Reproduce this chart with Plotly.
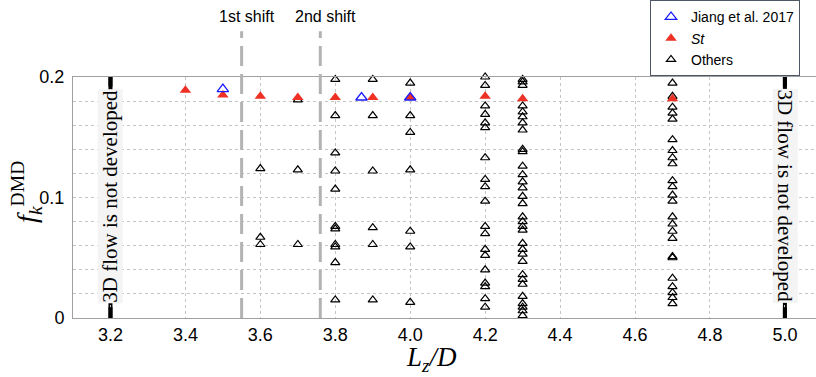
import plotly.graph_objects as go

# ---------------- data ----------------
jiang_x = [3.5, 3.87, 4.0]
jiang_y = [0.190, 0.183, 0.183]

st_x = [3.4, 3.5, 3.6, 3.7, 3.8, 3.9, 4.0, 4.2, 4.3, 4.7]
st_y = [0.189, 0.185, 0.184, 0.183, 0.183, 0.183, 0.183, 0.184, 0.182, 0.182]

others_36 = [0.124, 0.067, 0.061]
others_37 = [0.181, 0.123, 0.061]
others_38 = [0.198, 0.168, 0.137, 0.122, 0.107, 0.076, 0.074, 0.061, 0.059, 0.046, 0.015]
others_39 = [0.198, 0.168, 0.122, 0.075, 0.061, 0.015]
others_40 = [0.195, 0.168, 0.154, 0.123, 0.072, 0.059, 0.013]
others_42 = [0.200, 0.193, 0.176, 0.169, 0.162, 0.158, 0.133, 0.115, 0.109, 0.097,
             0.076, 0.070, 0.057, 0.052, 0.040, 0.029, 0.026, 0.016, 0.009]
others_43 = [0.198, 0.196, 0.193, 0.176, 0.171, 0.167, 0.162, 0.156, 0.140, 0.138,
             0.126, 0.119, 0.113, 0.108, 0.101, 0.095, 0.084, 0.080, 0.076, 0.073,
             0.062, 0.057, 0.053, 0.047, 0.036, 0.032, 0.028, 0.018, 0.012, 0.009,
             0.006, 0.002]
others_47 = [0.195, 0.184, 0.175, 0.170, 0.165, 0.148, 0.139, 0.133, 0.128, 0.114,
             0.109, 0.102, 0.097, 0.084, 0.078, 0.072, 0.066, 0.051, 0.050, 0.033,
             0.026, 0.021, 0.017, 0.012]
others_cols = {3.6: others_36, 3.7: others_37, 3.8: others_38, 3.9: others_39,
               4.0: others_40, 4.2: others_42, 4.3: others_43, 4.7: others_47}

shift_x = [3.55, 3.76]
shift_labels = ["1st shift", "2nd shift"]
undeveloped_x = [3.2, 5.0]
undeveloped_text = "3D flow is not developed"

x_ticks = [3.2, 3.4, 3.6, 3.8, 4.0, 4.2, 4.4, 4.6, 4.8, 5.0]
x_ticktext = ["3.2", "3.4", "3.6", "3.8", "4.0", "4.2", "4.4", "4.6", "4.8", "5.0"]
y_ticks = [0, 0.1, 0.2]
y_ticktext = ["0", "0.1", "0.2"]

others_x, others_y = [], []
for xv, ys in others_cols.items():
    others_x += [xv] * len(ys)
    others_y += ys

# ---------------- figure ----------------
fig = go.Figure()
fig.add_trace(go.Scatter(x=others_x, y=others_y, mode="markers", name="Others",
                         marker=dict(symbol="triangle-up-open", size=8, color="black",
                                     line=dict(width=1.2, color="black")),
                         cliponaxis=False))
fig.add_trace(go.Scatter(x=st_x, y=st_y, mode="markers",
                         name="<i>St</i>",
                         marker=dict(symbol="triangle-up", size=10, color="#ee3124",
                                     line=dict(width=0)),
                         cliponaxis=False))
fig.add_trace(go.Scatter(x=jiang_x, y=jiang_y, mode="markers", name="Jiang et al. 2017",
                         marker=dict(symbol="triangle-up-open", size=10, color="#1a1aff",
                                     line=dict(width=1.3, color="#1a1aff")),
                         cliponaxis=False))

grid_col = "#c4c4c4"
axis_col = "#a0a0a0"
tick_font = dict(family="Liberation Sans Narrow, Liberation Sans, sans-serif",
                 size=18, color="black")

fig.update_xaxes(range=[3.1, 5.083], tickvals=x_ticks, ticktext=x_ticktext,
                 showgrid=True, gridcolor=grid_col, griddash="dot", gridwidth=1,
                 showline=True, linecolor=axis_col, linewidth=1, mirror=True,
                 zeroline=False, ticks="", tickfont=tick_font, ticklabelstandoff=0)
fig.update_yaxes(range=[0, 0.2], tickvals=y_ticks, ticktext=y_ticktext,
                 showgrid=True, gridcolor=grid_col, griddash="dot", gridwidth=1,
                 minor=dict(dtick=0.02, showgrid=True, gridcolor=grid_col,
                            griddash="dot", gridwidth=1),
                 showline=True, linecolor=axis_col, linewidth=1,
                 zeroline=False, ticks="", tickfont=tick_font, ticklabelstandoff=4)

# shift lines and labels
for xs, lab in zip(shift_x, shift_labels):
    fig.add_shape(type="line", xref="x", yref="paper", x0=xs, x1=xs, y0=0, y1=1.19,
                  line=dict(color="#b3b3b3", width=3, dash="20px,8px"))
    fig.add_annotation(x=xs, xref="x", y=1.25, yref="paper", text=lab,
                       showarrow=False, xshift=5, xanchor="center", yanchor="middle",
                       font=dict(family="Arial, Liberation Sans, sans-serif", size=16,
                                 color="black"))

# "3D flow is not developed" markers
for xu, ang in zip(undeveloped_x, [-90, 90]):
    fig.add_shape(type="line", xref="x", yref="y", x0=xu, x1=xu, y0=0, y1=0.2,
                  line=dict(color="black", width=4), layer="below")
    fig.add_annotation(x=xu, xref="x", y=0.101, yref="y", text=undeveloped_text,
                       textangle=ang, showarrow=False, bgcolor="#f4f4f4", borderpad=0,
                       xanchor="center", yanchor="middle",
                       font=dict(family="Liberation Serif, Times New Roman, serif",
                                 size=21, color="black"))
    for y0, y1 in [(0.0, 0.009), (0.192, 0.2)]:
        fig.add_shape(type="line", xref="x", yref="y", x0=xu, x1=xu, y0=y0, y1=y1,
                      line=dict(color="black", width=4), layer="above")

# axis titles
fig.add_annotation(x=-0.062, xref="paper", y=0.523, yref="paper",
                   text="<i>f</i><sub><i>k</i></sub><sup>DMD</sup>",
                   textangle=-90, showarrow=False, xanchor="center", yanchor="middle",
                   font=dict(family="Liberation Serif, serif", size=28, color="black"))
fig.add_annotation(x=0.483, xref="paper", y=-0.172, yref="paper",
                   text="<i>L</i><sub><i>z</i></sub><i>/D</i>",
                   showarrow=False, xanchor="center", yanchor="middle",
                   font=dict(family="Liberation Serif, serif", size=27, color="black"))

fig.update_layout(
    width=816, height=377,
    margin=dict(l=73, r=0, t=77, b=59),
    plot_bgcolor="white", paper_bgcolor="white",
    showlegend=True,
    legend=dict(x=0.7766, xanchor="left", y=1.318, yanchor="top",
                traceorder="reversed", bgcolor="white",
                bordercolor="#4f5666", borderwidth=1,
                font=dict(family="Arial, Liberation Sans, sans-serif", size=14,
                          color="black"),
                itemwidth=30, tracegroupgap=0),
)

fig.write_html("out.html")
